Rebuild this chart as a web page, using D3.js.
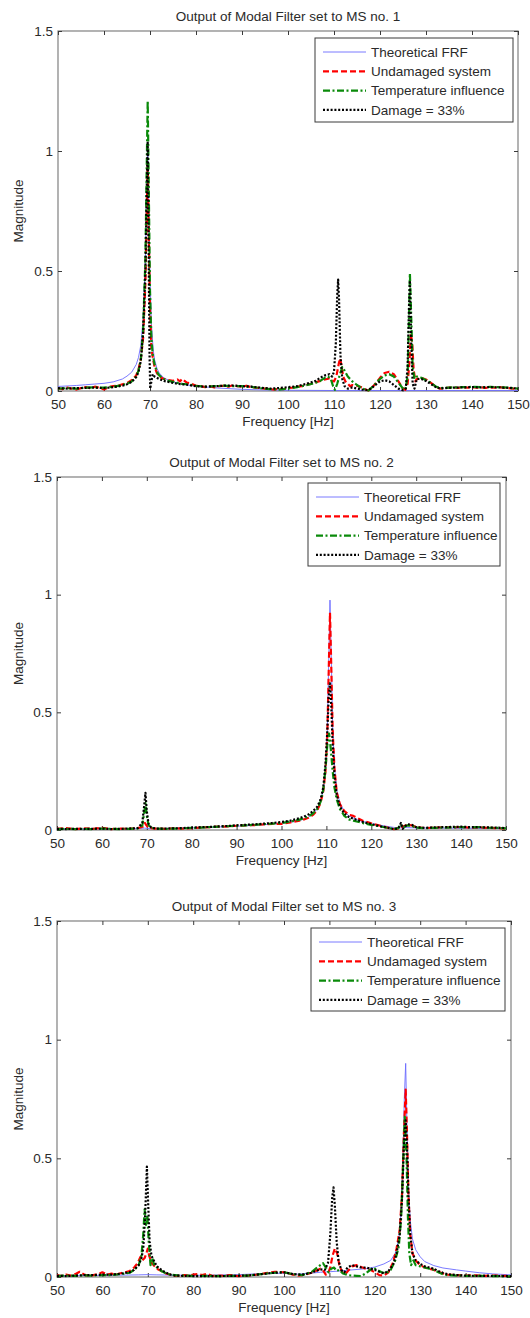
<!DOCTYPE html>
<html>
<head>
<meta charset="utf-8">
<script src="https://cdn.jsdelivr.net/npm/d3@7"></script>
<style>
  body { margin: 0; background: #fff; }
  svg text { font-family: "Liberation Sans", Arial, sans-serif; }
</style>
</head>
<body>
<svg id="chart" width="530" height="1318"></svg>
<script>
// Frequency response magnitudes ([frequency Hz, magnitude]) for each modal filter output

const xTicks = [50, 60, 70, 80, 90, 100, 110, 120, 130, 140, 150];
const yTicks = [0, 0.5, 1, 1.5];
const seriesNames = ["Theoretical FRF", "Undamaged system", "Temperature influence", "Damage = 33%"];
const panelTitles = ["Output of Modal Filter set to MS no. 1", "Output of Modal Filter set to MS no. 2", "Output of Modal Filter set to MS no. 3"];

// ---- MS no. 1 ----
const ms1Theoretical = [[50,0.019],[52,0.021],[54,0.023],[56,0.026],[58,0.029],[60,0.032],[62,0.038],[64,0.05],[65,0.062],[66,0.078],[67,0.11],[67.5,0.14],[68,0.19],[68.5,0.3],[69,0.55],[69.3,0.85],[69.5,1.0],[69.7,0.8],[70,0.48],[70.3,0.28],[70.7,0.17],[71,0.13],[71.5,0.095],[72,0.075],[73,0.055],[74,0.045],[75,0.038],[77,0.028],[80,0.02],[85,0.012],[90,0.007],[95,0.004],[100,0.003],[110,0.002],[120,0.002],[130,0.002],[140,0.002],[150,0.002]];
const ms1Undamaged = [[50,0.012],[51,0.008],[52,0.014],[53,0.01],[54,0.006],[55,0.012],[56,0.016],[57,0.012],[58,0.018],[59,0.014],[60,0.006],[61,0.016],[62,0.02],[63,0.022],[64,0.028],[65,0.033],[66,0.045],[67,0.065],[67.5,0.09],[68,0.13],[68.5,0.22],[69,0.45],[69.3,0.75],[69.5,0.95],[69.7,0.7],[70,0.35],[70.3,0.18],[70.6,0.14],[71,0.1],[71.5,0.075],[72,0.06],[73,0.05],[74,0.045],[75,0.042],[76,0.048],[76.5,0.04],[77,0.05],[78,0.035],[79,0.03],[80,0.022],[81,0.02],[82,0.016],[83,0.02],[84,0.015],[85,0.02],[86,0.022],[87,0.018],[88,0.024],[89,0.02],[90,0.018],[91,0.022],[92,0.016],[93,0.014],[94,0.012],[95,0.01],[96,0.008],[97,0.006],[98,0.01],[99,0.008],[100,0.012],[101,0.014],[102,0.018],[103,0.02],[104,0.026],[105,0.03],[106,0.036],[107,0.042],[108,0.048],[109,0.052],[109.5,0.045],[110,0.04],[110.5,0.06],[111,0.11],[111.3,0.136],[111.6,0.11],[112,0.06],[112.5,0.04],[113,0.03],[113.5,0.02],[114,0.025],[115,0.022],[116,0.015],[117,0.005],[117.5,0.002],[118,0.01],[119,0.03],[120,0.055],[121,0.075],[122,0.08],[123,0.07],[124,0.04],[125,0.01],[125.5,0.005],[126,0.03],[126.4,0.12],[126.7,0.24],[127,0.2],[127.3,0.09],[127.7,0.04],[128,0.05],[129,0.055],[130,0.048],[131,0.035],[132,0.02],[133,0.01],[134,0.012],[135,0.014],[136,0.015],[137,0.013],[138,0.016],[139,0.014],[140,0.016],[141,0.014],[142,0.015],[143,0.013],[144,0.015],[145,0.014],[146,0.016],[147,0.013],[148,0.012],[149,0.01],[150,0.009]];
const ms1Temperature = [[50,0.01],[52,0.012],[54,0.01],[56,0.014],[58,0.015],[60,0.014],[62,0.018],[64,0.025],[65,0.03],[66,0.04],[67,0.06],[67.5,0.085],[68,0.13],[68.5,0.25],[69,0.55],[69.3,0.95],[69.5,1.21],[69.7,0.9],[70,0.42],[70.3,0.22],[70.6,0.15],[71,0.11],[71.5,0.08],[72,0.065],[73,0.05],[74,0.042],[75,0.038],[76,0.034],[77,0.03],[78,0.028],[80,0.022],[82,0.018],[84,0.02],[86,0.022],[88,0.02],[90,0.02],[92,0.017],[94,0.012],[96,0.008],[98,0.006],[100,0.01],[102,0.016],[104,0.024],[106,0.034],[107,0.042],[108,0.055],[108.7,0.06],[109.3,0.05],[109.8,0.02],[110.2,0.005],[110.7,0.03],[111.3,0.07],[111.8,0.1],[112.3,0.085],[113,0.06],[114,0.04],[115,0.025],[116,0.012],[117,0.004],[117.5,0.002],[118,0.01],[119,0.03],[120,0.05],[121,0.065],[122,0.07],[123,0.06],[124,0.035],[125,0.01],[125.5,0.006],[126,0.06],[126.3,0.3],[126.5,0.49],[126.8,0.3],[127.1,0.1],[127.5,0.05],[128,0.06],[129,0.055],[130,0.045],[131,0.035],[132,0.02],[133,0.012],[134,0.013],[136,0.015],[138,0.016],[140,0.017],[142,0.016],[144,0.017],[146,0.016],[148,0.014],[150,0.01]];
const ms1Damage = [[50,0.012],[52,0.01],[54,0.012],[56,0.013],[58,0.014],[60,0.012],[62,0.016],[64,0.022],[65,0.028],[66,0.038],[67,0.058],[67.5,0.08],[68,0.125],[68.5,0.24],[69,0.5],[69.3,0.85],[69.5,1.04],[69.7,0.6],[69.9,0.15],[70.05,0.01],[70.3,0.04],[70.6,0.07],[71,0.06],[72,0.05],[73,0.042],[74,0.038],[75,0.034],[76,0.03],[77,0.028],[78,0.026],[80,0.02],[82,0.018],[84,0.02],[86,0.022],[88,0.023],[90,0.02],[92,0.018],[94,0.014],[96,0.01],[98,0.012],[100,0.016],[102,0.02],[104,0.03],[106,0.042],[107,0.055],[108,0.065],[109,0.07],[109.6,0.06],[110,0.08],[110.4,0.2],[110.7,0.4],[110.9,0.464],[111.1,0.38],[111.4,0.15],[111.8,0.05],[112.3,0.02],[113,0.01],[114,0.015],[115,0.01],[116,0.006],[117,0.004],[118,0.01],[119,0.025],[120,0.04],[121,0.045],[122,0.04],[123,0.025],[124,0.01],[125,0.003],[125.6,0.01],[126,0.1],[126.3,0.35],[126.5,0.46],[126.8,0.2],[127.1,0.03],[127.5,0.01],[128,0.05],[129,0.05],[130,0.042],[131,0.03],[132,0.018],[133,0.01],[134,0.012],[136,0.014],[138,0.015],[140,0.016],[142,0.015],[144,0.016],[146,0.015],[148,0.013],[150,0.01]];

// ---- MS no. 2 ----
const ms2Theoretical = [[50,0.004],[55,0.004],[60,0.005],[65,0.005],[68,0.006],[69.5,0.008],[70,0.007],[72,0.006],[75,0.007],[80,0.009],[85,0.012],[90,0.016],[95,0.021],[100,0.028],[103,0.036],[105,0.046],[106,0.055],[107,0.068],[108,0.09],[108.7,0.12],[109.3,0.17],[109.8,0.26],[110.2,0.42],[110.5,0.7],[110.8,0.977],[111.1,0.72],[111.4,0.44],[111.8,0.27],[112.3,0.17],[113,0.115],[114,0.08],[115,0.06],[117,0.042],[120,0.027],[123,0.017],[125,0.011],[126,0.006],[127,0.012],[128,0.01],[130,0.009],[135,0.008],[140,0.007],[145,0.007],[150,0.006]];
const ms2Undamaged = [[50,0.005],[52,0.008],[54,0.004],[56,0.007],[58,0.005],[60,0.009],[62,0.004],[64,0.006],[66,0.005],[68,0.008],[69.3,0.015],[69.6,0.03],[69.9,0.02],[70.3,0.012],[71,0.008],[72,0.006],[74,0.005],[76,0.007],[78,0.006],[80,0.008],[82,0.01],[84,0.012],[86,0.014],[88,0.015],[90,0.018],[92,0.02],[94,0.021],[96,0.024],[98,0.026],[100,0.026],[102,0.032],[104,0.04],[105,0.045],[106,0.052],[107,0.064],[108,0.085],[108.7,0.115],[109.3,0.165],[109.8,0.25],[110.2,0.4],[110.5,0.66],[110.8,0.923],[111.1,0.68],[111.4,0.42],[111.8,0.26],[112.3,0.16],[113,0.11],[114,0.08],[115,0.065],[116,0.06],[117,0.05],[118,0.04],[120,0.028],[122,0.018],[124,0.008],[125,0.004],[126,0.006],[127,0.015],[128,0.022],[129,0.02],[130,0.012],[132,0.008],[134,0.01],[136,0.012],[138,0.011],[140,0.013],[142,0.01],[144,0.011],[146,0.009],[148,0.008],[150,0.006]];
const ms2Temperature = [[50,0.004],[52,0.005],[54,0.004],[56,0.005],[58,0.004],[60,0.006],[62,0.005],[64,0.004],[66,0.005],[68,0.007],[69,0.02],[69.4,0.07],[69.7,0.114],[70,0.06],[70.4,0.02],[71,0.01],[72,0.006],[74,0.005],[76,0.006],[78,0.007],[80,0.009],[82,0.01],[84,0.012],[86,0.014],[88,0.016],[90,0.018],[92,0.02],[94,0.022],[96,0.025],[98,0.027],[100,0.03],[102,0.036],[104,0.044],[105,0.05],[106,0.058],[107,0.07],[108,0.09],[108.7,0.12],[109.3,0.17],[109.8,0.26],[110.2,0.36],[110.6,0.41],[111,0.34],[111.4,0.25],[111.8,0.18],[112.3,0.13],[113,0.09],[114,0.06],[115,0.045],[116,0.04],[117,0.035],[118,0.03],[120,0.022],[122,0.015],[124,0.008],[125,0.004],[126,0.008],[126.6,0.025],[127,0.01],[128,0.02],[129,0.018],[130,0.01],[132,0.008],[134,0.009],[136,0.01],[138,0.011],[140,0.012],[142,0.011],[144,0.012],[146,0.01],[148,0.009],[150,0.007]];
const ms2Damage = [[50,0.005],[52,0.004],[54,0.005],[56,0.004],[58,0.005],[60,0.006],[62,0.004],[64,0.005],[66,0.006],[68,0.008],[69,0.03],[69.4,0.1],[69.7,0.158],[70,0.08],[70.4,0.025],[71,0.01],[72,0.006],[74,0.006],[76,0.007],[78,0.008],[80,0.01],[82,0.012],[84,0.013],[86,0.015],[88,0.017],[90,0.02],[92,0.022],[94,0.024],[96,0.027],[98,0.03],[100,0.034],[102,0.04],[104,0.05],[105,0.057],[106,0.066],[107,0.08],[108,0.1],[108.7,0.13],[109.3,0.18],[109.8,0.28],[110.2,0.42],[110.5,0.56],[110.8,0.623],[111.1,0.52],[111.4,0.36],[111.8,0.23],[112.3,0.15],[113,0.1],[114,0.07],[115,0.055],[116,0.048],[117,0.042],[118,0.035],[120,0.025],[122,0.016],[124,0.008],[125,0.004],[126,0.006],[126.6,0.03],[127,0.005],[128,0.025],[129,0.022],[130,0.012],[132,0.009],[134,0.011],[136,0.012],[138,0.013],[140,0.014],[142,0.012],[144,0.012],[146,0.011],[148,0.01],[150,0.008]];

// ---- MS no. 3 ----
const ms3Theoretical = [[50,0.005],[55,0.006],[60,0.007],[65,0.008],[68,0.009],[70,0.01],[72,0.009],[75,0.008],[80,0.007],[85,0.008],[90,0.01],[95,0.014],[100,0.016],[103,0.012],[106,0.016],[108,0.02],[110,0.022],[112,0.025],[115,0.03],[118,0.035],[120,0.042],[122,0.055],[123.5,0.07],[124.5,0.1],[125.3,0.16],[125.8,0.28],[126.2,0.5],[126.5,0.75],[126.8,0.9],[127.1,0.62],[127.4,0.38],[127.8,0.24],[128.3,0.16],[129,0.115],[130,0.085],[131,0.065],[133,0.048],[135,0.038],[138,0.03],[140,0.025],[143,0.018],[146,0.013],[150,0.009]];
const ms3Undamaged = [[50,0.008],[51,0.004],[52,0.01],[53,0.006],[54,0.012],[55,0.022],[56,0.01],[57,0.005],[58,0.008],[59,0.012],[60,0.02],[61,0.01],[62,0.014],[63,0.01],[64,0.016],[65,0.02],[66,0.025],[67,0.04],[67.8,0.06],[68.4,0.085],[68.8,0.07],[69.3,0.08],[69.7,0.1],[70,0.12],[70.3,0.09],[70.8,0.06],[71.5,0.045],[72,0.035],[73,0.025],[74,0.015],[75,0.01],[76,0.006],[77,0.005],[78,0.008],[79,0.006],[80,0.01],[81,0.012],[82,0.008],[83,0.014],[84,0.006],[85,0.004],[86,0.006],[87,0.005],[88,0.008],[89,0.006],[90,0.004],[92,0.006],[94,0.01],[96,0.016],[98,0.022],[100,0.02],[102,0.01],[103,0.006],[104,0.008],[105,0.012],[106,0.018],[107,0.025],[108,0.035],[108.6,0.028],[109.2,0.01],[109.7,0.015],[110.2,0.04],[110.7,0.09],[111.2,0.12],[111.7,0.1],[112.2,0.05],[112.8,0.02],[113.5,0.012],[114.3,0.03],[115,0.045],[116,0.05],[117,0.042],[118,0.035],[119,0.03],[120,0.02],[121,0.008],[122,0.006],[123,0.02],[124,0.06],[124.8,0.12],[125.5,0.2],[126,0.35],[126.4,0.6],[126.8,0.79],[127.1,0.6],[127.4,0.35],[127.8,0.18],[128.3,0.1],[129,0.07],[130,0.05],[131,0.04],[132,0.035],[133,0.03],[134,0.022],[135,0.015],[136,0.01],[138,0.008],[140,0.006],[142,0.007],[144,0.005],[146,0.006],[148,0.005],[150,0.004]];
const ms3Temperature = [[50,0.004],[52,0.006],[54,0.005],[56,0.007],[58,0.006],[60,0.008],[62,0.008],[64,0.012],[66,0.018],[67,0.03],[68,0.05],[68.6,0.09],[69,0.18],[69.3,0.285],[69.6,0.22],[69.9,0.26],[70.2,0.15],[70.6,0.05],[71,0.08],[71.4,0.05],[72,0.04],[73,0.025],[74,0.015],[75,0.01],[77,0.006],[80,0.005],[83,0.005],[86,0.004],[89,0.005],[92,0.006],[95,0.012],[98,0.018],[100,0.02],[102,0.012],[104,0.008],[106,0.02],[107,0.035],[108,0.05],[108.6,0.058],[109.2,0.04],[109.8,0.02],[110.4,0.035],[111,0.04],[111.6,0.025],[112.2,0.03],[113,0.015],[114,0.008],[115,0.006],[116,0.005],[117,0.004],[118,0.015],[119,0.03],[119.6,0.04],[120.5,0.03],[121.5,0.02],[122.5,0.015],[123.5,0.03],[124.5,0.07],[125.3,0.13],[125.8,0.25],[126.2,0.45],[126.6,0.675],[127,0.5],[127.3,0.25],[127.6,0.1],[128,0.05],[128.5,0.07],[129,0.05],[130,0.045],[131,0.04],[132,0.035],[133,0.03],[134,0.02],[135,0.012],[136,0.008],[138,0.006],[140,0.005],[143,0.005],[146,0.004],[150,0.003]];
const ms3Damage = [[50,0.005],[52,0.004],[54,0.006],[56,0.008],[58,0.008],[60,0.01],[62,0.01],[64,0.014],[66,0.02],[67,0.03],[68,0.05],[68.6,0.08],[69,0.12],[69.4,0.25],[69.8,0.465],[70.1,0.3],[70.4,0.15],[70.8,0.09],[71.3,0.07],[72,0.045],[73,0.03],[74,0.018],[75,0.01],[76,0.006],[78,0.005],[80,0.004],[83,0.004],[86,0.004],[89,0.005],[92,0.006],[95,0.012],[98,0.018],[100,0.02],[102,0.012],[104,0.01],[106,0.018],[107,0.025],[108,0.032],[109,0.03],[109.7,0.06],[110.2,0.18],[110.6,0.33],[110.9,0.378],[111.2,0.3],[111.6,0.15],[112,0.07],[112.6,0.03],[113.3,0.02],[114,0.04],[115,0.05],[116,0.045],[117,0.04],[118,0.04],[119,0.035],[120,0.03],[121,0.022],[122,0.015],[123,0.025],[124,0.05],[124.8,0.1],[125.5,0.18],[126,0.33],[126.4,0.55],[126.8,0.66],[127.1,0.55],[127.4,0.35],[127.8,0.18],[128.3,0.1],[129,0.07],[130,0.055],[131,0.045],[132,0.04],[133,0.035],[134,0.025],[135,0.018],[136,0.012],[138,0.008],[140,0.006],[142,0.005],[145,0.005],[148,0.004],[150,0.004]];

const panelSeries = [
  [ms1Theoretical, ms1Undamaged, ms1Temperature, ms1Damage],
  [ms2Theoretical, ms2Undamaged, ms2Temperature, ms2Damage],
  [ms3Theoretical, ms3Undamaged, ms3Temperature, ms3Damage]
];

// Line styles, one per series
const styles = [
  { stroke: "#6b6bff", width: 0.9, dash: null },
  { stroke: "#ff0000", width: 2.2, dash: "6,3" },
  { stroke: "#0a8a0a", width: 2.2, dash: "7,2.5,2,2.5" },
  { stroke: "#000000", width: 2.2, dash: "2,1.8" }
];

// Panel geometry
const layouts = [
  { left: 58, right: 518, top: 31, bottom: 391, legend: { x: 315, y: 38, w: 198, h: 84 } },
  { left: 57, right: 506, top: 477, bottom: 830, legend: { x: 308, y: 483, w: 192, h: 83 } },
  { left: 57, right: 511, top: 921, bottom: 1277, legend: { x: 311, y: 928, w: 194, h: 83 } }
];

const svg = d3.select("#chart");
const fmt = d => String(d);

layouts.forEach((L, p) => {
  const x = d3.scaleLinear().domain([50, 150]).range([L.left, L.right]);
  const y = d3.scaleLinear().domain([0, 1.5]).range([L.bottom, L.top]);
  const g = svg.append("g");

  // plot frame
  g.append("rect")
    .attr("x", L.left).attr("y", L.top)
    .attr("width", L.right - L.left).attr("height", L.bottom - L.top)
    .attr("fill", "#fff").attr("stroke", "#8a8a8a").attr("stroke-width", 1.3);

  // axes with inward ticks on all four sides
  const styleAxis = sel => {
    sel.select(".domain").remove();
    sel.selectAll(".tick line").attr("stroke", "#3a3a3a").attr("stroke-width", 1);
    sel.selectAll(".tick text").attr("fill", "#2a2a2a").style("font-size", "13.5px");
  };
  g.append("g").attr("transform", `translate(0,${L.bottom})`)
    .call(d3.axisBottom(x).tickValues(xTicks).tickSize(-4).tickPadding(8).tickFormat(fmt))
    .call(styleAxis);
  g.append("g").attr("transform", `translate(0,${L.top})`)
    .call(d3.axisTop(x).tickValues(xTicks).tickSize(-4).tickFormat(""))
    .call(styleAxis);
  g.append("g").attr("transform", `translate(${L.left},0)`)
    .call(d3.axisLeft(y).tickValues(yTicks).tickSize(-4).tickPadding(5).tickFormat(fmt))
    .call(styleAxis);
  g.append("g").attr("transform", `translate(${L.right},0)`)
    .call(d3.axisRight(y).tickValues(yTicks).tickSize(-4).tickFormat(""))
    .call(styleAxis);

  // curves
  const line = d3.line().x(d => x(d[0])).y(d => y(d[1]));
  panelSeries[p].forEach((data, i) => {
    const s = styles[i];
    g.append("path")
      .datum(data)
      .attr("d", line)
      .attr("fill", "none")
      .attr("stroke", s.stroke)
      .attr("stroke-width", s.width)
      .attr("stroke-dasharray", s.dash)
      .attr("stroke-linejoin", "round");
  });

  // title and axis labels
  const cx = (L.left + L.right) / 2;
  g.append("text").attr("x", cx).attr("y", L.top - 15).attr("dy", "0.35em")
    .attr("text-anchor", "middle").attr("fill", "#2a2a2a").style("font-size", "13.5px")
    .text(panelTitles[p]);
  g.append("text").attr("x", cx).attr("y", L.bottom + 30).attr("dy", "0.35em")
    .attr("text-anchor", "middle").attr("fill", "#2a2a2a").style("font-size", "13.5px")
    .text("Frequency [Hz]");
  g.append("text")
    .attr("transform", `translate(18,${(L.top + L.bottom) / 2}) rotate(-90)`)
    .attr("dy", "0.35em").attr("text-anchor", "middle").attr("fill", "#2a2a2a")
    .style("font-size", "13.5px").text("Magnitude");

  // legend
  const lg = g.append("g").attr("transform", `translate(${L.legend.x},${L.legend.y})`);
  lg.append("rect").attr("width", L.legend.w).attr("height", L.legend.h)
    .attr("fill", "#fff").attr("stroke", "#3a3a3a").attr("stroke-width", 1);
  seriesNames.forEach((name, i) => {
    const ry = 14 + i * 19.3;
    const s = styles[i];
    lg.append("line").attr("x1", 8).attr("x2", 51).attr("y1", ry).attr("y2", ry)
      .attr("stroke", s.stroke).attr("stroke-width", s.width).attr("stroke-dasharray", s.dash);
    lg.append("text").attr("x", 56).attr("y", ry).attr("dy", "0.35em")
      .attr("fill", "#2a2a2a").style("font-size", "13.5px").text(name);
  });
});
</script>
</body>
</html>
